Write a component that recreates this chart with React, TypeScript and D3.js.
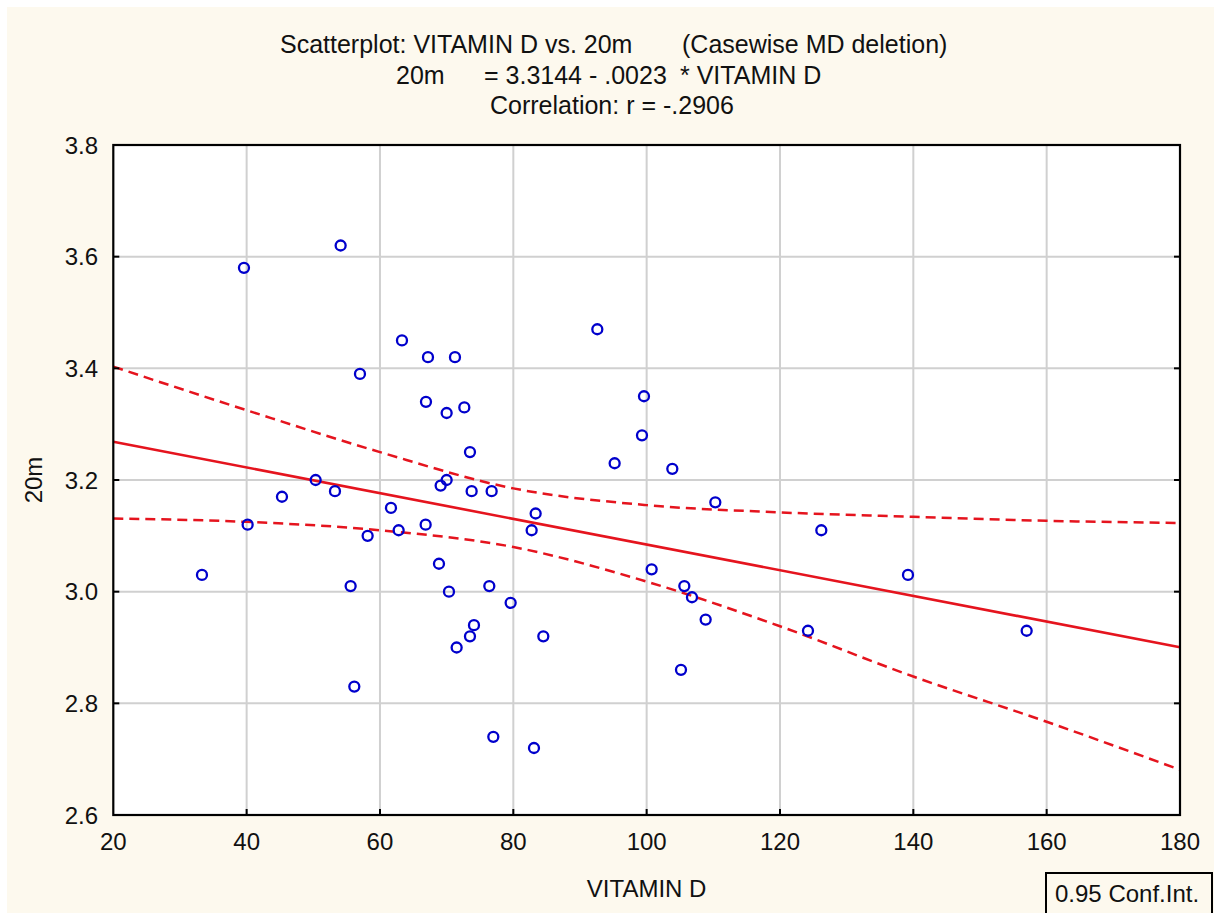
import React from "react";
import * as d3 from "d3";

// ---- data ----
const vitaminD: number[] = [
  54.1, 39.6, 63.3, 67.2, 71.25, 57.0, 66.9, 70.0, 72.65, 73.5,
  50.35, 70.0, 69.1, 53.25, 73.75, 76.75, 45.3, 61.65, 40.15, 66.85,
  62.8, 58.15, 68.85, 33.3, 55.6, 70.35, 76.4, 92.6, 99.6, 99.3,
  95.2, 103.85, 110.3, 126.2, 83.35, 82.75, 100.75, 105.65, 106.8, 108.85,
  124.2, 79.6, 84.5, 74.1, 73.5, 71.5, 56.15, 105.15, 77.0, 83.1,
  139.2, 157.0,
];
const m20: number[] = [
  3.62, 3.58, 3.45, 3.42, 3.42, 3.39, 3.34, 3.32, 3.33, 3.25,
  3.2, 3.2, 3.19, 3.18, 3.18, 3.18, 3.17, 3.15, 3.12, 3.12,
  3.11, 3.1, 3.05, 3.03, 3.01, 3.0, 3.01, 3.47, 3.35, 3.28,
  3.23, 3.22, 3.16, 3.11, 3.14, 3.11, 3.04, 3.01, 2.99, 2.95,
  2.93, 2.98, 2.92, 2.94, 2.92, 2.9, 2.83, 2.86, 2.74, 2.72,
  3.03, 2.93,
];

const intercept = 3.3144;
const slope = -0.0023;

const bandX: number[] = [20, 40, 60, 80, 100, 120, 140, 160, 180];
const bandUpper: number[] = [3.403, 3.325, 3.25, 3.185, 3.155, 3.142, 3.134, 3.127, 3.123];
const bandLower: number[] = [3.131, 3.125, 3.11, 3.08, 3.018, 2.938, 2.848, 2.767, 2.681];

const xTicks: number[] = [20, 40, 60, 80, 100, 120, 140, 160, 180];
const yTicks: number[] = [2.6, 2.8, 3.0, 3.2, 3.4, 3.6, 3.8];

const W = 1214;
const H = 913;
const L = 113.3;
const R = 1180;
const T = 145;
const B = 815;
const FONT = "'Liberation Sans', Arial, Helvetica, sans-serif";

export default function App() {
  const x = d3.scaleLinear().domain([20, 180]).range([L, R]);
  const y = d3.scaleLinear().domain([2.6, 3.8]).range([B, T]);

  const bandLine = d3
    .line<number>()
    .x((_, i) => x(bandX[i]))
    .y((d) => y(d))
    .curve(d3.curveMonotoneX);

  const regLine = d3
    .line<number>()
    .x((d) => x(d))
    .y((d) => y(intercept + slope * d));

  const textStyle = { fontFamily: FONT, fontSize: 24, fill: "#111" } as const;
  const titleStyle = { fontFamily: FONT, fontSize: 25, fill: "#111" } as const;

  return (
    <svg
      width={W}
      height={H}
      style={{ position: "absolute", left: 0, top: 0 }}
    >
      <rect x={0} y={0} width={W} height={H} fill="#ffffff" />
      <rect x={7} y={7} width={W - 7} height={H - 7} fill="#fdf9ee" />

      {/* titles */}
      <text x={280} y={53} {...titleStyle}>Scatterplot: VITAMIN D vs. 20m</text>
      <text x={682} y={53} {...titleStyle}>(Casewise MD deletion)</text>
      <text x={396} y={84} {...titleStyle}>20m</text>
      <text x={484} y={84} {...titleStyle}>= 3.3144 - .0023</text>
      <text x={680} y={84} {...titleStyle}>* VITAMIN D</text>
      <text x={490} y={114} {...titleStyle}>Correlation: r = -.2906</text>

      {/* plot area */}
      <rect x={L} y={T} width={R - L} height={B - T} fill="#ffffff" />

      {/* grid */}
      {xTicks.slice(1, -1).map((t) => (
        <line key={"gx" + t} x1={x(t)} x2={x(t)} y1={T} y2={B} stroke="#d0d0d0" strokeWidth={2} />
      ))}
      {yTicks.slice(1, -1).map((t) => (
        <line key={"gy" + t} x1={L} x2={R} y1={y(t)} y2={y(t)} stroke="#d0d0d0" strokeWidth={2} />
      ))}

      {/* confidence bands */}
      <path d={bandLine(bandUpper) || ""} fill="none" stroke="#e5141e" strokeWidth={2.5} strokeDasharray="10,6" />
      <path d={bandLine(bandLower) || ""} fill="none" stroke="#e5141e" strokeWidth={2.5} strokeDasharray="10,6" />

      {/* regression line */}
      <path d={regLine([20, 180]) || ""} fill="none" stroke="#e5141e" strokeWidth={2.6} />

      {/* points */}
      {vitaminD.map((v, i) => (
        <circle key={"p" + i} cx={x(v)} cy={y(m20[i])} r={5} fill="none" stroke="#0000cc" strokeWidth={2.3} />
      ))}

      {/* frame */}
      <rect x={L} y={T} width={R - L} height={B - T} fill="none" stroke="#000" strokeWidth={2.2} />

      {/* ticks */}
      {xTicks.slice(1, -1).map((t) => (
        <line key={"tx" + t} x1={x(t)} x2={x(t)} y1={B} y2={B - 6} stroke="#000" strokeWidth={2} />
      ))}
      {yTicks.slice(1, -1).map((t) => (
        <g key={"ty" + t}>
          <line x1={L} x2={L + 6} y1={y(t)} y2={y(t)} stroke="#000" strokeWidth={2} />
          <line x1={R} x2={R - 6} y1={y(t)} y2={y(t)} stroke="#000" strokeWidth={2} />
        </g>
      ))}

      {/* tick labels */}
      {xTicks.map((t) => (
        <text key={"lx" + t} x={x(t)} y={850} textAnchor="middle" {...textStyle}>
          {t}
        </text>
      ))}
      {yTicks.map((t) => (
        <text key={"ly" + t} x={98} y={y(t) + 8.5} textAnchor="end" {...textStyle}>
          {t.toFixed(1)}
        </text>
      ))}

      {/* axis titles */}
      <text x={(L + R) / 2} y={897} textAnchor="middle" {...textStyle}>VITAMIN D</text>
      <text
        transform={`translate(42,${(T + B) / 2}) rotate(-90)`}
        textAnchor="middle"
        {...textStyle}
      >
        20m
      </text>

      {/* legend box */}
      <rect x={1046} y={873} width={166} height={50} fill="none" stroke="#000" strokeWidth={2} />
      <text x={1055} y={902} {...textStyle}>0.95 Conf.Int.</text>
    </svg>
  );
}
